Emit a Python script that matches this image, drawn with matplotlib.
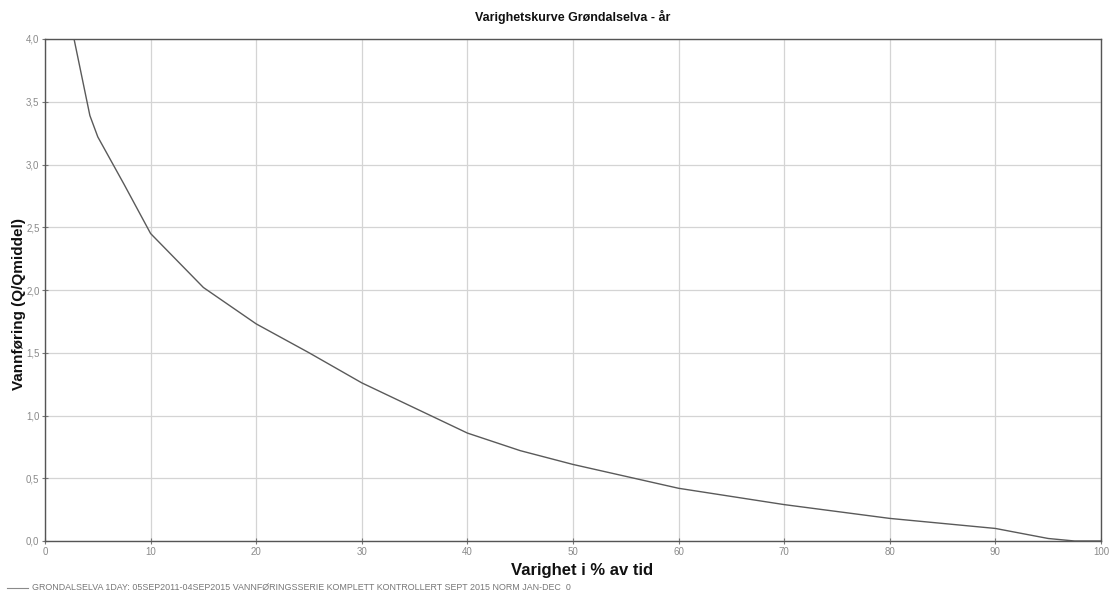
import matplotlib
matplotlib.use("Agg")
import matplotlib.pyplot as plt
from matplotlib.ticker import FuncFormatter, MultipleLocator

plt.rcParams['font.family'] = ['Liberation Sans', 'DejaVu Sans']

# Duration curve: percent of time vs. relative discharge Q/Qmiddel
duration_pct = [2.0, 2.75, 4.25, 5.0, 7.5, 10, 15, 20, 25, 30, 35, 40, 45, 50,
                60, 70, 80, 90, 95, 97.5, 100]
discharge_rel = [4.30, 4.00, 3.39, 3.22, 2.84, 2.45, 2.02, 1.73, 1.50, 1.26, 1.06,
                 0.86, 0.72, 0.61, 0.42, 0.29, 0.18, 0.10, 0.02, 0.0, 0.0]

title = "Varighetskurve Grøndalselva - år"
xlabel = "Varighet i % av tid"
ylabel = "Vannføring (Q/Qmiddel)"
series_label = ("GRONDALSELVA 1DAY: 05SEP2011-04SEP2015 VANNFØRINGSSERIE KOMPLETT "
                "KONTROLLERT SEPT 2015 NORM JAN-DEC  0")

W, H = 1111, 595
fig = plt.figure(figsize=(W / 100, H / 100), dpi=100)
fig.patch.set_facecolor("white")
ax = fig.add_axes([45 / W, 1 - 541 / H, (1101 - 45) / W, (541 - 39) / H])

line_color = "#5a5a5a"
ax.plot(duration_pct, discharge_rel, color=line_color, lw=1.0, clip_on=True)

ax.set_xlim(0, 100)
ax.set_ylim(0, 4.0)
ax.xaxis.set_major_locator(MultipleLocator(10))
ax.yaxis.set_major_locator(MultipleLocator(0.5))
ax.yaxis.set_major_formatter(FuncFormatter(lambda v, p: f"{v:.1f}".replace(".", ",")))
ax.xaxis.set_major_formatter(FuncFormatter(lambda v, p: f"{v:.0f}"))

ax.grid(True, color="#d4d4d4", lw=0.9)
ax.set_axisbelow(True)
for s in ax.spines.values():
    s.set_color("#555555")
    s.set_linewidth(1.0)

ax.tick_params(axis="both", which="major", direction="inout", length=4, width=0.8,
               color="#777777", labelcolor="#8a8a8a", labelsize=7, pad=2)

fig.text((45 + 1101) / 2 / W, 1 - 17 / H, title, ha="center", va="center",
         fontsize=9, fontweight="bold", color="#111111")
fig.text(582 / W, 1 - 571 / H, xlabel, ha="center", va="center",
         fontsize=12, fontweight="bold", color="#111111")
fig.text(19 / W, 1 - 304 / H, ylabel, ha="center", va="center", rotation=90,
         fontsize=11, fontweight="bold", color="#111111")

# Series key below the plot
fig.add_artist(plt.Line2D([7 / W, 28 / W], [1 - 588 / H, 1 - 588 / H],
                          color="#8a8a8a", lw=0.8))
fig.text(32 / W, 1 - 588 / H, series_label, ha="left", va="center",
         fontsize=6.4, color="#777777")

fig.savefig("out.png", dpi=100, facecolor="white")
